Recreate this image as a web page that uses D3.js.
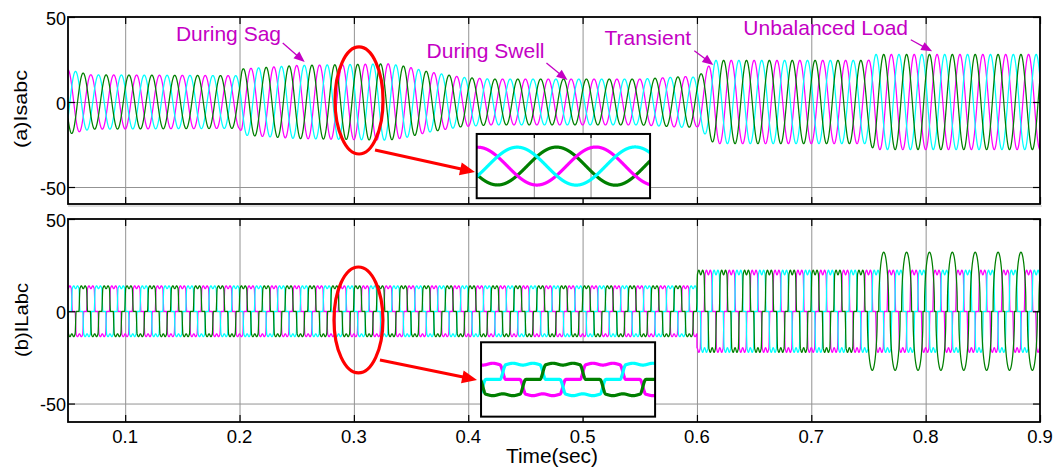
<!DOCTYPE html>
<html><head><meta charset="utf-8">
<script src="https://cdn.jsdelivr.net/npm/d3@7"></script>
<style>
html,body{margin:0;padding:0;background:#fff;}
svg{display:block;font-family:"Liberation Sans",Arial,sans-serif;}
</style></head><body>
<svg id="chart" width="1056" height="468"></svg>
<script>
// ---------------- data ----------------
const xDomain = [0.05, 0.9];
const yDomain = [-60, 50];
const xTicks = [0.1, 0.2, 0.3, 0.4, 0.5, 0.6, 0.7, 0.8, 0.9];
const xTickLabels = ["0.1", "0.2", "0.3", "0.4", "0.5", "0.6", "0.7", "0.8", "0.9"];
const yTicks = [-50, 0, 50];
const yTickLabels = ["-50", "0", "50"];
const panelLabels = ["(a)Isabc", "(b)ILabc"];
const xAxisTitle = "Time(sec)";

const freqHz = 50;
const baseDeg = -90;
const phaseShiftDeg = [0, -120, -240];           // phase a, b, c
const phaseColors = ["#ff00ff", "#00ffff", "#007f00"];

// source current envelope (A), panel (a)
const srcEnvTime = [0.05, 0.07, 0.2, 0.202, 0.25, 0.33, 0.345, 0.365, 0.395, 0.42, 0.55, 0.59, 0.6, 0.605, 0.615, 0.75, 0.755, 0.9];
const srcEnvAmp  = [19,   16,   15.5, 19.5, 21.5, 22.5, 21,    17.8,  14.5,  13.5, 13.5, 15,   14.5, 17.5,  24.5,  24.5, 28,    28];

// load current levels (A), panel (b)
const loadEnvTime = [0.05, 0.6, 0.6, 0.9];
const loadEnvAmp  = [13,   13,  21,  21];
const unbalStart = 0.748;
const unbalPhase = 2;
const unbalAmp = 32;

// annotations (data coordinates of panel a)
const annoText  = ["During Sag", "During Swell", "Transient", "Unbalanced Load"];
const annoT     = [0.1444, 0.3636, 0.5191, 0.6406];
const annoV     = [36.1, 25.7, 33.4, 39.6];
const arrowFromT = [0.2378, 0.4684, 0.5977, 0.787];
const arrowFromV = [34.7, 22.9, 30.2, 36.6];
const arrowToT   = [0.257, 0.4868, 0.6143, 0.8057];
const arrowToV   = [23.5, 12.9, 21.8, 29.8];

// zoom circles and insets
const circleT = [0.3045, 0.3040];
const circleV = [0.9, -4.7];
const circleRT = [0.021, 0.0214];
const circleRV = [31.5, 28.7];
const zoomArrowFromT = [0.3185, 0.3228];
const zoomArrowFromV = [-28.2, -26.4];
const zoomArrowToT   = [0.4059, 0.4077];
const zoomArrowToV   = [-41.2, -37.2];
const insetBoxT = [[0.4074, 0.5590], [0.4112, 0.5634]];
const insetBoxV = [[-56.6, -18.8], [-57.1, -16.8]];
const insetTimeDomain = [[0.2898, 0.3192], [0.2897, 0.3187]];
const insetValueDomain = [[-37.5, 37.5], [-31.6, 31.6]];
const insetGridT = [[0.29957, 0.30919], []];

// ---------------- signal helpers ----------------
function lerpEnv(ts, vs, t) {
  if (t <= ts[0]) return vs[0];
  for (let i = 0; i < ts.length - 1; i++) {
    if (t <= ts[i + 1]) {
      const d = ts[i + 1] - ts[i];
      if (d <= 0) continue;
      return vs[i] + (vs[i + 1] - vs[i]) * (t - ts[i]) / d;
    }
  }
  return vs[vs.length - 1];
}
function phaseDeg(t, k) {
  return ((freqHz * t * 360 + baseDeg + phaseShiftDeg[k]) % 360 + 720) % 360;
}
function srcI(t, k) {
  const A = lerpEnv(srcEnvTime, srcEnvAmp, t);
  return A * Math.sin(phaseDeg(t, k) * Math.PI / 180);
}
function quasiSquare(deg, mu) {
  const h = mu / 2;
  const edges = [30, 150, 210, 330];
  const levels = [0, 1, 0, -1, 0];
  for (let i = 0; i < 4; i++) {
    if (deg < edges[i] - h) return levels[i];
    if (deg < edges[i] + h) {
      const f = (deg - (edges[i] - h)) / mu;
      const s = (1 - Math.cos(Math.PI * f)) / 2;
      return levels[i] + (levels[i + 1] - levels[i]) * s;
    }
  }
  return 0;
}
function roundedPulse(deg) {
  const d = 12;
  if (deg >= d && deg <= 180 - d) return Math.pow(Math.sin(Math.PI * (deg - d) / (180 - 2 * d)), 0.45);
  if (deg >= 180 + d && deg <= 360 - d) return -Math.pow(Math.sin(Math.PI * (deg - 180 - d) / (180 - 2 * d)), 0.45);
  return 0;
}
function loadI(t, k) {
  const deg = phaseDeg(t, k);
  if (k === unbalPhase && t > unbalStart) return unbalAmp * roundedPulse(deg);
  const I = lerpEnv(loadEnvTime, loadEnvAmp, t);
  return I * quasiSquare(deg, 18) * (1 + 0.06 * Math.cos(6 * deg * Math.PI / 180));
}
function sample(f, k, t0, t1, dt) {
  const n = Math.round((t1 - t0) / dt);
  return d3.range(n + 1).map(i => { const t = t0 + i * dt; return [t, f(t, k)]; });
}

// ---------------- layout ----------------
const svg = d3.select("#chart");
const plotL = 68, plotR = 1040;
const panels = [
  { top: 17, bottom: 204, f: srcI },
  { top: 219, bottom: 422, f: loadI }
];
const x = d3.scaleLinear().domain(xDomain).range([plotL, plotR]);
const annoColor = "#c400c4";

// faint separator band between panels
svg.append("line").attr("x1", plotL).attr("x2", plotR + 2).attr("y1", 206).attr("y2", 206)
  .attr("stroke", "#dedede").attr("stroke-width", 2);

const defs = svg.append("defs");

panels.forEach((p, pi) => {
  const y = d3.scaleLinear().domain(yDomain).range([p.bottom, p.top]);
  p.y = y;
  const g = svg.append("g");
  const h = p.bottom - p.top;

  defs.append("clipPath").attr("id", "clip" + pi)
    .append("rect").attr("x", plotL).attr("y", p.top).attr("width", plotR - plotL).attr("height", h);

  // grid
  const gx = g.append("g").attr("transform", `translate(0,${p.bottom})`)
    .call(d3.axisBottom(x).tickValues(xTicks.slice(0, -1)).tickSize(-h).tickFormat(""));
  const gy = g.append("g").attr("transform", `translate(${plotL},0)`)
    .call(d3.axisLeft(y).tickValues(yTicks.slice(0, -1)).tickSize(-(plotR - plotL)).tickFormat(""));
  [gx, gy].forEach(a => {
    a.select(".domain").remove();
    a.selectAll("line").attr("stroke", "#939393").attr("stroke-width", 1);
  });

  // waveforms
  const line = d3.line().x(d => x(d[0])).y(d => y(d[1]));
  const wg = g.append("g").attr("clip-path", `url(#clip${pi})`);
  [0, 1, 2].forEach(k => {
    wg.append("path").datum(sample(p.f, k, xDomain[0], xDomain[1], 0.00004))
      .attr("d", line).attr("fill", "none").attr("stroke", phaseColors[k])
      .attr("stroke-width", 1.25).attr("stroke-linejoin", "round");
  });

  // tick marks inward on all four sides
  const tk = 7;
  const axB = g.append("g").attr("transform", `translate(0,${p.bottom})`)
    .call(d3.axisBottom(x).tickValues(xTicks).tickSize(-tk).tickFormat(""));
  const axT = g.append("g").attr("transform", `translate(0,${p.top})`)
    .call(d3.axisTop(x).tickValues(xTicks).tickSize(-tk).tickFormat(""));
  const axL = g.append("g").attr("transform", `translate(${plotL},0)`)
    .call(d3.axisLeft(y).tickValues(yTicks).tickSize(-tk).tickFormat(""));
  const axR = g.append("g").attr("transform", `translate(${plotR},0)`)
    .call(d3.axisRight(y).tickValues(yTicks).tickSize(-tk).tickFormat(""));
  [axB, axT, axL, axR].forEach(a => {
    a.select(".domain").remove();
    a.selectAll("line").attr("stroke", "#000").attr("stroke-width", 1.2);
  });

  // frame
  g.append("rect").attr("x", plotL).attr("y", p.top).attr("width", plotR - plotL).attr("height", h)
    .attr("fill", "none").attr("stroke", "#000").attr("stroke-width", 1.8);

  // y tick labels
  g.selectAll("text.ytl").data(yTicks).enter().append("text")
    .attr("x", 66).attr("y", d => y(d) + 7.5)
    .attr("text-anchor", "end").attr("font-size", 18).attr("fill", "#000")
    .text((d, i) => yTickLabels[i]);

  // panel label
  const cy = pi === 0 ? 109 : 320;
  const cx = pi === 0 ? 27 : 28;
  g.append("text").attr("transform", `translate(${cx},${cy}) rotate(-90)`)
    .attr("text-anchor", "middle").attr("font-size", 19).attr("fill", "#000")
    .attr("textLength", pi === 0 ? 78 : 74).attr("lengthAdjust", "spacingAndGlyphs")
    .text(panelLabels[pi]);

  // red circle (ellipse) marking zoom region
  g.append("ellipse")
    .attr("cx", x(circleT[pi])).attr("cy", y(circleV[pi]))
    .attr("rx", x(circleT[pi] + circleRT[pi]) - x(circleT[pi]))
    .attr("ry", y(0) - y(circleRV[pi]))
    .attr("fill", "none").attr("stroke", "#ff0000").attr("stroke-width", 3.2);

  // red arrow
  drawArrow(g, x(zoomArrowFromT[pi]), y(zoomArrowFromV[pi]), x(zoomArrowToT[pi]), y(zoomArrowToV[pi]),
    "#ff0000", 3, 15, 6.5);

  // inset
  const bx0 = x(insetBoxT[pi][0]), bx1 = x(insetBoxT[pi][1]);
  const by0 = y(insetBoxV[pi][1]), by1 = y(insetBoxV[pi][0]);
  const ix = d3.scaleLinear().domain(insetTimeDomain[pi]).range([bx0, bx1]);
  const iy = d3.scaleLinear().domain(insetValueDomain[pi]).range([by1, by0]);
  const ig = g.append("g");
  ig.append("rect").attr("x", bx0).attr("y", by0).attr("width", bx1 - bx0).attr("height", by1 - by0)
    .attr("fill", "#fff");
  insetGridT[pi].forEach(t => {
    ig.append("line").attr("x1", ix(t)).attr("x2", ix(t)).attr("y1", by0).attr("y2", by1)
      .attr("stroke", "#8a8a8a").attr("stroke-width", 1);
    ig.append("line").attr("x1", ix(t)).attr("x2", ix(t)).attr("y1", by0).attr("y2", by0 + 4)
      .attr("stroke", "#000").attr("stroke-width", 1.2);
  });
  defs.append("clipPath").attr("id", "iclip" + pi)
    .append("rect").attr("x", bx0).attr("y", by0).attr("width", bx1 - bx0).attr("height", by1 - by0);
  const iline = d3.line().x(d => ix(d[0])).y(d => iy(d[1]));
  const ilg = ig.append("g").attr("clip-path", `url(#iclip${pi})`);
  const order = pi === 0 ? [2, 0, 1] : [0, 1, 2];
  order.forEach(k => {
    ilg.append("path").datum(sample(p.f, k, insetTimeDomain[pi][0] - 0.0005, insetTimeDomain[pi][1] + 0.0005, 0.00002))
      .attr("d", iline).attr("fill", "none").attr("stroke", phaseColors[k])
      .attr("stroke-width", 3.2).attr("stroke-linejoin", "round");
  });
  ig.append("rect").attr("x", bx0).attr("y", by0).attr("width", bx1 - bx0).attr("height", by1 - by0)
    .attr("fill", "none").attr("stroke", "#000").attr("stroke-width", 2);
});

// x tick labels (bottom panel)
svg.selectAll("text.xtl").data(xTicks).enter().append("text")
  .attr("x", d => x(d)).attr("y", 442.5).attr("text-anchor", "middle")
  .attr("font-size", 18.5).attr("fill", "#000").text((d, i) => xTickLabels[i]);

svg.append("text").attr("x", 552).attr("y", 463).attr("text-anchor", "middle")
  .attr("font-size", 19.5).attr("fill", "#000")
  .attr("textLength", 92).attr("lengthAdjust", "spacingAndGlyphs").text(xAxisTitle);

// annotations
const yA = panels[0].y;
annoText.forEach((s, i) => {
  svg.append("text").attr("x", x(annoT[i])).attr("y", yA(annoV[i]))
    .attr("font-size", 21).attr("fill", annoColor).text(s);
  drawArrow(svg, x(arrowFromT[i]), yA(arrowFromV[i]), x(arrowToT[i]), yA(arrowToV[i]),
    annoColor, 1.3, 11, 4.5);
});

function drawArrow(g, x1, y1, x2, y2, color, w, hl, hw) {
  const dx = x2 - x1, dy = y2 - y1, L = Math.hypot(dx, dy);
  const ux = dx / L, uy = dy / L;
  const bx = x2 - ux * hl, by = y2 - uy * hl;
  g.append("line").attr("x1", x1).attr("y1", y1).attr("x2", bx + ux * 2).attr("y2", by + uy * 2)
    .attr("stroke", color).attr("stroke-width", w);
  g.append("polygon")
    .attr("points", [[x2, y2], [bx - uy * hw, by + ux * hw], [bx + uy * hw, by - ux * hw]].map(p => p.join(",")).join(" "))
    .attr("fill", color);
}
</script>
</body></html>
